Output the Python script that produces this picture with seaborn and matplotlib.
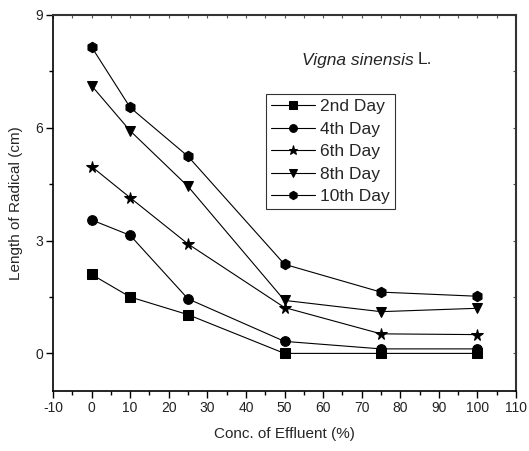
import matplotlib
matplotlib.use("Agg")
import matplotlib.pyplot as plt
import seaborn as sns
import pandas as pd
from matplotlib.ticker import MultipleLocator

conc = [0, 10, 25, 50, 75, 100]
days = ["2nd Day", "4th Day", "6th Day", "8th Day", "10th Day"]
day2 = [2.1, 1.5, 1.03, 0.0, 0.0, 0.0]
day4 = [3.55, 3.14, 1.45, 0.32, 0.12, 0.12]
day6 = [4.97, 4.14, 2.91, 1.22, 0.52, 0.5]
day8 = [7.12, 5.92, 4.44, 1.41, 1.11, 1.2]
day10 = [8.15, 6.54, 5.24, 2.37, 1.63, 1.52]
xticks = list(range(-10, 111, 10))
yticks = [0, 3, 6, 9]

series = [day2, day4, day6, day8, day10]
rows = []
for d, vals in zip(days, series):
    for c, v in zip(conc, vals):
        rows.append({"conc": c, "len": v, "day": d})
df = pd.DataFrame(rows)

sns.set_theme(style="ticks")
plt.rcParams["font.family"] = ["Liberation Sans", "DejaVu Sans"]
plt.rcParams["axes.unicode_minus"] = False

fig = plt.figure(figsize=(5.29, 4.51), dpi=100)
ax = fig.add_axes([53/529, 1 - 391/451, (516-53)/529, (391-15)/451])

markers = {"2nd Day": "s", "4th Day": "o", "6th Day": "*", "8th Day": "v", "10th Day": "h"}
sizes = {"2nd Day": 6.5, "4th Day": 7, "6th Day": 8.5, "8th Day": 7.5, "10th Day": 7.5}
for d in days:
    sub = df[df["day"] == d]
    sns.lineplot(data=sub, x="conc", y="len", ax=ax, color="black", lw=0.8,
                 marker=markers[d], markersize=sizes[d], markeredgecolor="black",
                 markerfacecolor="black", label=d, legend=False)

ax.set_xlim(-10, 110)
ax.set_ylim(-1, 9)
ax.set_xticks(xticks)
ax.set_yticks(yticks)
ax.xaxis.set_minor_locator(MultipleLocator(5))
ax.yaxis.set_minor_locator(MultipleLocator(1.5))
ax.tick_params(axis="both", which="major", direction="out", length=5, width=1,
               labelsize=10, color="black", labelcolor="#222222", pad=2)
ax.tick_params(axis="both", which="minor", direction="out", length=3, width=1, color="black")

# faint inward ticks on top and right
sx = ax.secondary_xaxis("top")
sx.set_xticks(list(range(-10, 111, 5)))
sx.tick_params(direction="in", length=2, width=0.8, labeltop=False, color="#555555")
sy = ax.secondary_yaxis("right")
sy.set_yticks([0, 1.5, 3, 4.5, 6, 7.5, 9])
sy.tick_params(direction="in", length=2, width=0.8, labelright=False, color="#555555")
for s in sx.spines.values():
    s.set_visible(False)
for s in sy.spines.values():
    s.set_visible(False)

for s in ax.spines.values():
    s.set_color("black")
    s.set_linewidth(1.2)
ax.spines["top"].set_linewidth(1.5)
ax.spines["right"].set_linewidth(1.5)
ax.spines["top"].set_color("#333333")
ax.spines["right"].set_color("#333333")

ax.set_xlabel("Conc. of Effluent (%)", fontsize=11, labelpad=9)
ax.set_ylabel("Length of Radical (cm)", fontsize=11, labelpad=9)

ty = 451 - 60
t1 = ax.text(302, ty, "Vigna sinensis", transform=None, fontsize=12.5, style="italic",
             ha="left", va="center")
fig.canvas.draw()
bb = t1.get_window_extent()
ax.text(bb.x1 + 4, ty, "L.", transform=None, fontsize=12.5, ha="left", va="center")

leg = ax.legend(loc="upper left", bbox_to_anchor=((266-53)/463, 1 - (94-15)/376),
                frameon=True, fancybox=False, edgecolor="black", fontsize=12.5,
                handlelength=2.5, handletextpad=0.3, borderpad=0.3, labelspacing=0.42,
                borderaxespad=0, markerscale=0.8)
leg.get_frame().set_linewidth(0.8)

fig.savefig("out.png", dpi=100)
